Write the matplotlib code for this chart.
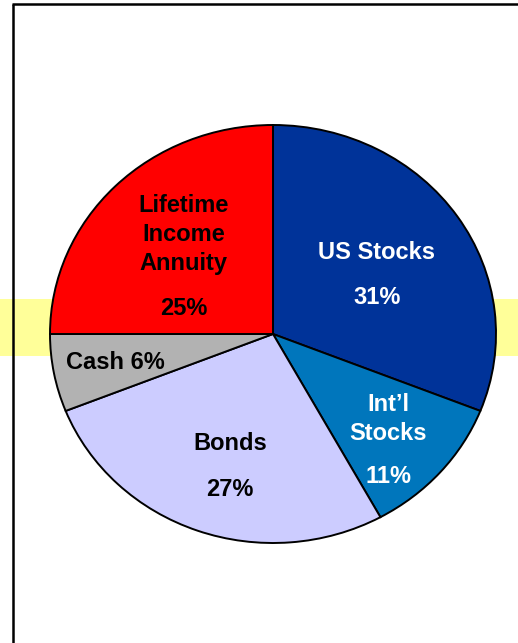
import matplotlib.pyplot as plt

# allocation data
labels = ["US Stocks", "Int\u2019l\nStocks", "Bonds", "Cash", "Lifetime\nIncome\nAnnuity"]
shares = [31, 11, 27, 6, 25]
colors = ["#003399", "#0076BC", "#CCCCFF", "#B2B2B2", "#FF0000"]
text_colors = ["white", "white", "black", "black", "black"]

# label positions in pie units (name, percent)
name_pos = [(0.466, 0.388), (0.516, -0.407), (-0.193, -0.526), (-0.709, -0.134), (-0.40, 0.474)]
pct_pos = [(0.466, 0.177), (0.516, -0.684), (-0.193, -0.746), None, (-0.40, 0.124)]

plt.rcParams['font.family'] = ['Liberation Sans', 'DejaVu Sans']

fig = plt.figure(figsize=(5.18, 6.43), dpi=100)

# background layer in pixel-like units: yellow band + frame lines
bg = fig.add_axes([0, 0, 1, 1], zorder=-1)
bg.set_xlim(0, 518)
bg.set_ylim(643, 0)
bg.axis('off')
bg.axhspan(299, 356, color="#FFFF99", lw=0, zorder=1)
bg.plot([13, 13], [3.5, 643], color="black", lw=1.8, zorder=3, solid_capstyle='butt')
bg.plot([12.3, 518], [4, 4], color="black", lw=1.8, zorder=3, solid_capstyle='butt')

ax = fig.add_axes([50/518, (643-543)/643, 446/518, 418/643], zorder=1)
ax.patch.set_alpha(0)
ax.pie(shares, colors=colors, startangle=90, counterclock=False,
       wedgeprops=dict(edgecolor="black", linewidth=1.4))
ax.set_aspect('auto')
ax.set_xlim(-1.0, 1.0)
ax.set_ylim(-1.0, 1.0)
ax.axis('off')

for i, lab in enumerate(labels):
    c = text_colors[i]
    if pct_pos[i] is None:
        ax.text(*name_pos[i], f"{lab} {shares[i]}%", ha='center', va='center',
                fontsize=17, fontweight='bold', color=c)
        continue
    ax.text(*name_pos[i], lab, ha='center', va='center', fontsize=17,
            fontweight='bold', color=c, linespacing=1.33)
    ax.text(*pct_pos[i], f"{shares[i]}%", ha='center', va='center', fontsize=17,
            fontweight='bold', color=c)

fig.savefig("out.png", dpi=100)
